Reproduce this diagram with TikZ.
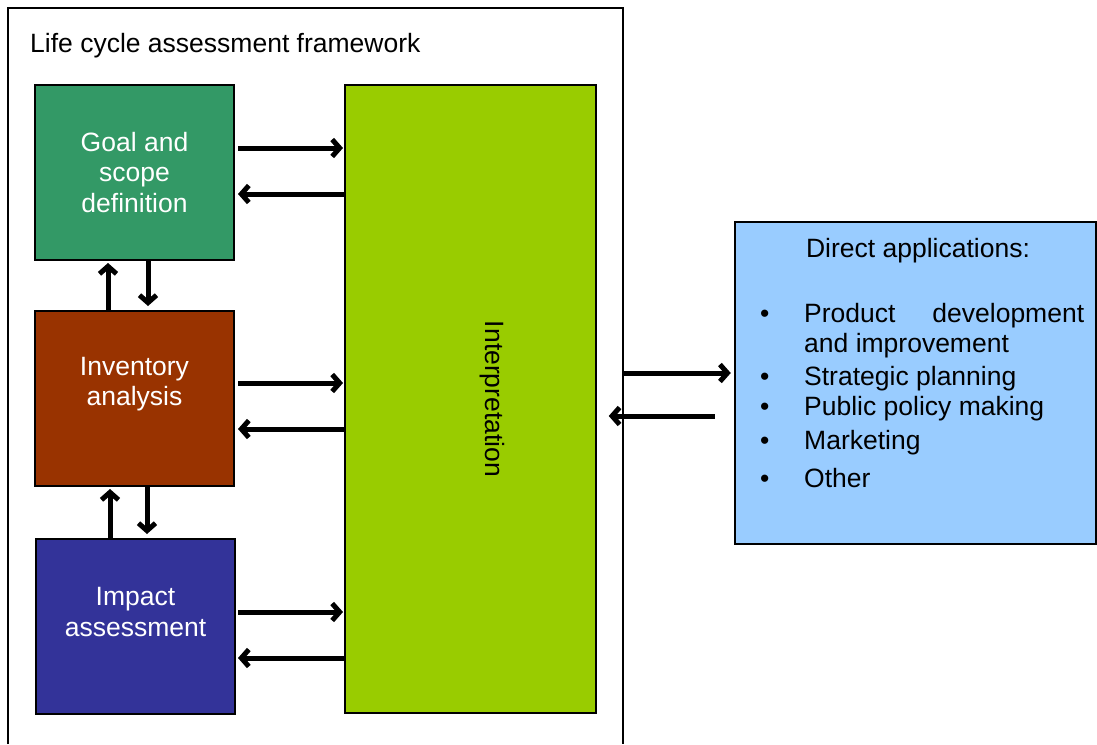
\documentclass[tikz,border=0pt]{standalone}
\usepackage{fontspec}
\setmainfont{Liberation Sans}
\usetikzlibrary{arrows.meta,positioning}
\definecolor{goalgreen}{HTML}{339966}
\definecolor{invbrown}{HTML}{993300}
\definecolor{impblue}{HTML}{333399}
\definecolor{interpgreen}{HTML}{99CC00}
\definecolor{appsblue}{HTML}{99CCFF}
\tikzset{
    >={Straight Barb[length=7.5pt,width=17pt]},
    blokk/.style={
           rectangle,
           draw=black, line width=2pt,
           minimum width=199pt,
           minimum height=175pt,
           inner sep=0pt},
    tekst/.style={
           text=white,
           align=center},
    punkt/.style={
           text width=280pt,
           align=justify,
           inner sep=0pt,
           anchor=base west},
    pil/.style={
           ->,
           line width=5pt}
}

\begin{document}
\begin{tikzpicture}[x=1pt,y=-1pt]
          \def \kule {\llap{\makebox[44pt][l]{\textbullet}}}
          \fontsize{26.5pt}{30.5pt}\selectfont
          \useasboundingbox (0,0) rectangle (1097,744);
          \draw[line width=1.5pt] (8,744) -- (8,8) -- (623,8) -- (623,744);
          \node[anchor=base west, inner sep=0pt] (title) at (30,52) {Life cycle assessment framework};
          \node[blokk, fill=goalgreen] (goal) at (134.5,172.5) {};
          \node[blokk, fill=invbrown] (inv) at (134.5,398.5) {};
          \node[blokk, fill=impblue] (imp) at (135.5,626.5) {};
          \node[blokk, fill=interpgreen, minimum width=251pt, minimum height=628pt] (interp) at (470.5,399) {};
          \node[tekst] (goaltxt) at (goal.center) {Goal and\\scope\\definition};
          \node[tekst] (invtxt) at ([yshift=14.5pt]inv.center) {Inventory\\analysis};
          \node[tekst] (imptxt) at ([yshift=14.5pt]imp.center) {Impact\\assessment};
          \node[rotate=-90] (interptxt) at ([xshift=22pt]interp.center) {Interpretation};
          \node[draw, line width=2.5pt, fill=appsblue, minimum width=361pt, minimum height=322pt] (apps) at (915.5,383) {};
          \node[anchor=base] (appstitle) at (918,257) {Direct applications:};
          \node[punkt] (p1) at (804,322) {\kule Product development and improvement};
          \node[punkt] (p2) at (804,385) {\kule Strategic planning};
          \node[punkt] (p3) at (804,415) {\kule Public policy making};
          \node[punkt] (p4) at (804,449) {\kule Marketing};
          \node[punkt] (p5) at (804,487) {\kule Other};
          % ends of the arrows beside the steps
          \coordinate (g1) at ([xshift=3pt,yshift=24.5pt]goal.east);
          \coordinate (g2) at ([xshift=3pt,yshift=-21.5pt]goal.east);
          \coordinate (i1) at ([xshift=3pt,yshift=15.5pt]inv.east);
          \coordinate (i2) at ([xshift=3pt,yshift=-30.5pt]inv.east);
          \coordinate (m1) at ([xshift=2pt,yshift=14.5pt]imp.east);
          \coordinate (m2) at ([xshift=2pt,yshift=-31.5pt]imp.east);
          % to and from interpretation
          \draw[pil] (g1) -- ([xshift=-1pt]g1 -| interp.west);
          \draw[pil] (g2 -| interp.west) -- (g2);
          \draw[pil] (i1) -- ([xshift=-1pt]i1 -| interp.west);
          \draw[pil] (i2 -| interp.west) -- (i2);
          \draw[pil] (m1) -- ([xshift=-1pt]m1 -| interp.west);
          \draw[pil] (m2 -| interp.west) -- (m2);
          % between the steps
          \draw[pil] ([xshift=-26.5pt]inv.north) -- ([xshift=-26.5pt,yshift=-2pt]goal.south);
          \draw[pil] ([xshift=13.5pt]goal.south) -- ([xshift=13.5pt,yshift=4pt]inv.north);
          \draw[pil] ([xshift=-25.5pt]imp.north) -- ([xshift=-24.5pt,yshift=-2pt]inv.south);
          \draw[pil] ([xshift=12.5pt]inv.south) -- ([xshift=11.5pt,yshift=4pt]imp.north);
          % to and from applications
          \draw[pil] ([xshift=-110pt,yshift=10pt]apps.west) -- ([xshift=-3pt,yshift=10pt]apps.west);
          \draw[pil] ([xshift=-19pt,yshift=-33pt]apps.west) -- ([xshift=-125pt,yshift=-33pt]apps.west);
\end{tikzpicture}
\end{document}
